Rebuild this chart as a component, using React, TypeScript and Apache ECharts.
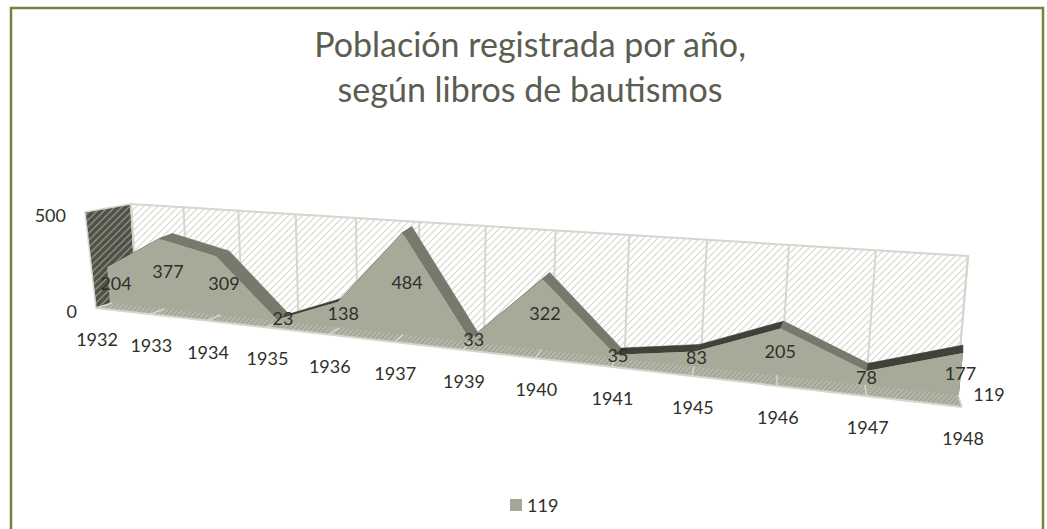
import React, { useEffect, useRef } from "react";
import * as echarts from "echarts";

const years = ["1932","1933","1934","1935","1936","1937","1939","1940","1941","1945","1946","1947","1948"];
const values = [204, 377, 309, 23, 138, 484, 33, 322, 35, 83, 205, 78, 177];
const seriesName = "119";
const yTicks = [0, 500];
const titleText = "Población registrada por año,\nsegún libros de bautismos";

const W = 1047, H = 529;
const GL = 0, GT = 0, GW = 1000, GH = 500;
const R = 1.36;
type P = [number, number];
type Plane = { bl: P; br: P; tl: P; tr: P };
const frontPlane: Plane = { bl: [110, 305], br: [958, 403], tl: [103, 212], tr: [972, 262] };
const backPlane: Plane = { bl: [125, 300], br: [958, 395], tl: [118, 207], tr: [972, 254] };
const wallPlane: Plane = { bl: [137, 299], br: [956, 398], tl: [131, 204], tr: [968, 256] };
const leftWall: P[] = [[85, 212], [131, 204], [137, 299], [96, 308]];
const floorPlane: Plane = { bl: [96, 308], br: [962, 407], tl: [112, 303], tr: [958, 395] };

const FONT = "Lato, Carlito, sans-serif";
const TXT = "#2f3029";

const lerp = (a: P, b: P, t: number): P => [a[0] + (b[0] - a[0]) * t, a[1] + (b[1] - a[1]) * t];
const warp = (u: number) => u / ((1 - u) * R + u);
const project = (pl: Plane, u: number, w: number): P => {
  const s = warp(u);
  return lerp(lerp(pl.bl, pl.br, s), lerp(pl.tl, pl.tr, s), w);
};
// data -> pixels of the hidden grid -> unit square -> perspective plane
const toUnit = (api: any, i: number, v: number): P => {
  const c = api.coord([i, v]);
  return [(c[0] - GL) / GW, (GT + GH - c[1]) / GH];
};
const onPlane = (api: any, pl: Plane, i: number, v: number): P => {
  const [u, w] = toUnit(api, i, v);
  return project(pl, u, w);
};

function hatch(bg: string, fg: string, size = 6, lw = 1): HTMLCanvasElement {
  const c = document.createElement("canvas");
  c.width = size; c.height = size;
  const g = c.getContext("2d")!;
  g.fillStyle = bg; g.fillRect(0, 0, size, size);
  g.strokeStyle = fg; g.lineWidth = lw;
  [[0, size, size, 0], [-size / 2, size / 2, size / 2, -size / 2], [size / 2, size * 1.5, size * 1.5, size / 2]].forEach(([a, b, d, e]) => {
    g.beginPath(); g.moveTo(a, b); g.lineTo(d, e); g.stroke();
  });
  return c;
}

export default function App() {
  const ref = useRef<HTMLDivElement>(null);
  useEffect(() => {
    document.body.style.margin = "0";
    const chart = echarts.init(ref.current!, undefined, { renderer: "svg" });
    const wallFill = { image: hatch("#ffffff", "#d6d6ce", 7, 1.2), repeat: "repeat" };
    const sideFill = { image: hatch("#4f5247", "#8a8d80", 7, 1.5), repeat: "repeat" };
    const floorFill = { image: hatch("#b2b4a5", "#95988b", 5), repeat: "repeat" };
    const frameColor = "#d5d6cc";
    const maxT = years.length - 1;

    const idx = years.map((_, i) => i);
    const base: any = { type: "custom", coordinateSystem: "cartesian2d", clip: false, silent: true, encode: { x: 0, y: 1 } };
    const row = (i: number) => [years[i], values[i]];

    chart.setOption({
      animation: false,
      backgroundColor: "#ffffff",
      title: {
        text: titleText, left: 525, top: 16, textAlign: "center",
        textStyle: { fontFamily: FONT, fontSize: 34, fontWeight: 400, color: "#5a5d4f", lineHeight: 45 },
      },
      grid: { left: GL, top: GT, width: GW, height: GH },
      xAxis: { type: "category", data: years, boundaryGap: false, show: false },
      yAxis: { type: "value", min: yTicks[0], max: yTicks[1], show: false },
      legend: {
        data: [seriesName], left: 505, top: 491, itemWidth: 12, itemHeight: 12, itemGap: 6,
        icon: "rect", textStyle: { fontFamily: FONT, fontSize: 18, color: TXT },
      },
      graphic: [{
        type: "polyline", silent: true, z: 0,
        shape: { points: [[11, 530], [11, 8], [1043, 8], [1043, 530]] },
        style: { fill: "none", stroke: "#6f8540", lineWidth: 2.5 },
      }],
      series: [
        { // walls and their gridlines
          ...base, z: 1, data: idx.map(row),
          renderItem: (p: any, api: any) => {
            const i = p.dataIndex;
            const children: any[] = [];
            if (i === 0) {
              children.push({ type: "polygon", shape: { points: leftWall }, style: { fill: sideFill, stroke: frameColor, lineWidth: 1.5 } });
              const corners = [onPlane(api, wallPlane, 0, 0), onPlane(api, wallPlane, maxT, 0), onPlane(api, wallPlane, maxT, yTicks[1]), onPlane(api, wallPlane, 0, yTicks[1])];
              children.push({ type: "polygon", shape: { points: corners }, style: { fill: wallFill, stroke: frameColor, lineWidth: 2 } });
            }
            const a = onPlane(api, wallPlane, i, 0), b = onPlane(api, wallPlane, i, yTicks[1]);
            children.push({ type: "line", shape: { x1: a[0], y1: a[1], x2: b[0], y2: b[1] }, style: { stroke: frameColor, lineWidth: 2 } });
            return { type: "group", children };
          },
        },
        { // top surface of the area, one strip per segment
          ...base, z: 3, data: idx.map(row),
          renderItem: (p: any, api: any) => {
            const i = p.dataIndex;
            if (i === maxT) {
              const cap = [onPlane(api, frontPlane, i, 0), onPlane(api, frontPlane, i, values[i]), onPlane(api, backPlane, i, values[i]), onPlane(api, backPlane, i, 0)];
              return { type: "polygon", shape: { points: cap }, style: { fill: "#45483e" } };
            }
            const rising = values[i + 1] >= values[i];
            const pts = [
              onPlane(api, frontPlane, i, values[i]), onPlane(api, backPlane, i, values[i]),
              onPlane(api, backPlane, i + 1, values[i + 1]), onPlane(api, frontPlane, i + 1, values[i + 1]),
            ];
            const fill = rising ? "#3f4238" : "#76796c";
            return { type: "polygon", shape: { points: pts }, style: { fill, stroke: fill, lineWidth: 0.5 } };
          },
        },
        { // front face of the area
          ...base, z: 4, name: seriesName, itemStyle: { color: "#a4a796" }, data: idx.map(row),
          renderItem: (p: any, api: any) => {
            if (p.dataIndex !== 0) return { type: "group", children: [] };
            const tops = values.map((v, i) => onPlane(api, frontPlane, i, v));
            const pts = [onPlane(api, frontPlane, 0, 0), ...tops, onPlane(api, frontPlane, maxT, 0)];
            return { type: "polygon", shape: { points: pts }, style: { fill: "#a7aa99" } };
          },
        },
        { // floor strip in front of the area
          ...base, z: 5, data: idx.map(row),
          renderItem: (p: any, api: any) => {
            const i = p.dataIndex;
            const children: any[] = [];
            if (i === 0) {
              const c = [onPlane(api, floorPlane, 0, 0), onPlane(api, floorPlane, maxT, 0), onPlane(api, floorPlane, maxT, yTicks[1]), onPlane(api, floorPlane, 0, yTicks[1])];
              children.push({ type: "polygon", shape: { points: c }, style: { fill: floorFill } });
              children.push({ type: "line", shape: { x1: c[0][0], y1: c[0][1], x2: c[1][0], y2: c[1][1] }, style: { stroke: frameColor, lineWidth: 2 } });
            }
            const a = onPlane(api, floorPlane, i, 0), b = onPlane(api, floorPlane, i, yTicks[1]);
            children.push({ type: "line", shape: { x1: a[0], y1: a[1], x2: b[0], y2: b[1] }, style: { stroke: frameColor, lineWidth: 1.5 } });
            return { type: "group", children };
          },
        },
        { // texts
          ...base, z: 6, data: idx.map(row),
          renderItem: (p: any, api: any) => {
            const i = p.dataIndex;
            const text = (s: string, x: number, y: number, align = "center") => ({
              type: "text", x, y,
              style: { text: s, fontFamily: FONT, fontSize: 18, fill: TXT, align, verticalAlign: "middle" },
            });
            const f = onPlane(api, frontPlane, i, values[i] / 2);
            const b = onPlane(api, backPlane, i, values[i] / 2);
            const m = lerp(f, b, 0.5);
            const fl = onPlane(api, floorPlane, i, 0);
            const children: any[] = [
              text(String(values[i]), m[0], m[1] - 1),
              text(years[i], fl[0] + 1, fl[1] + 31),
            ];
            if (i === 0) {
              const lw0 = leftWall[3], lw1 = leftWall[0];
              children.push(text(String(yTicks[0]), lw0[0] - 19, lw0[1] + 3, "right"));
              children.push(text(String(yTicks[1]), lw1[0] - 19, lw1[1] + 3, "right"));
            }
            if (i === maxT) {
              const e = onPlane(api, wallPlane, i, 0);
              children.push(text(seriesName, e[0] + 33, e[1] - 4));
            }
            return { type: "group", children };
          },
        },
      ],
    });
    return () => chart.dispose();
  }, []);
  return <div ref={ref} style={{ width: W, height: H }} />;
}
